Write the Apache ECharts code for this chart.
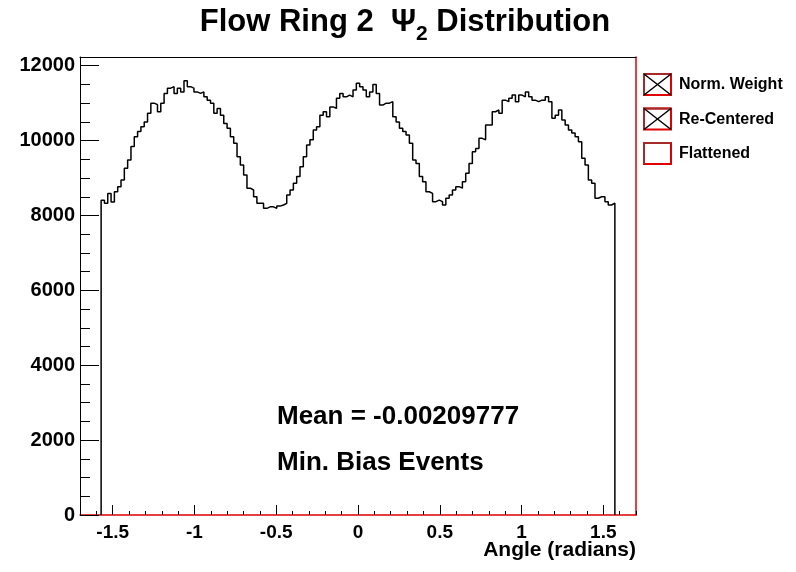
<!DOCTYPE html>
<html><head><meta charset="utf-8">
<script src="https://cdn.jsdelivr.net/npm/echarts@6/dist/echarts.min.js"></script>
<style>html,body{margin:0;padding:0;background:#fff}#c{width:796px;height:572px}</style>
</head><body><div id="c"></div>
<script>
// Histogram bin contents (bins span -pi/2 .. pi/2)
const binValues = [
 8410, 8325, 8590, 8360, 8635, 8770, 8950, 9260, 9480, 9840,
 10100, 10240, 10370, 10500, 10730, 11000, 10960, 10770, 11000, 11260,
 11400, 11440, 11260, 11400, 11300, 11600, 11440, 11400, 11300, 11260,
 11300, 11170, 11080, 11000, 10730, 10860, 10680, 10460, 10330, 10100,
 9930, 9570, 9350, 9080, 8730, 8680, 8500, 8325, 8325, 8190,
 8230, 8230, 8190, 8250, 8280, 8325, 8550, 8680, 8860, 9040,
 9300, 9570, 9880, 10020, 10280, 10370, 10680, 10770, 10640, 10900,
 10860, 11130, 11260, 11170, 11215, 11170, 11350, 11530,
 11440, 11350, 11170, 11300, 11500, 11260, 10950, 11000, 11000, 11040,
 10640, 10500, 10330, 10240, 10150, 9930, 9480, 9390, 9040, 8900,
 8635, 8590, 8370, 8410, 8370, 8280, 8460, 8550, 8680, 8770,
 8730, 8900, 9130, 9390, 9700, 9790, 10060, 10020, 10420, 10420,
 10770, 10820, 10730, 11080, 11040, 11130, 11215, 11040, 11215, 11170,
 11300, 11170, 11080, 11040, 11080, 11080, 11170, 11040, 10600, 10680,
 10820, 10550, 10420, 10280, 10200, 10100, 9970, 9530, 9350, 8950,
 8860, 8460, 8500, 8500, 8370, 8280, 8330
];
const histMin = -Math.PI / 2;
const histMax = Math.PI / 2;
const xMajorTicks = [-1.5, -1, -0.5, 0, 0.5, 1, 1.5];
const xMinorTicks = [-1.7,-1.6,-1.4,-1.3,-1.2,-1.1,-0.9,-0.8,-0.7,-0.6,-0.4,-0.3,-0.2,-0.1,0.1,0.2,0.3,0.4,0.6,0.7,0.8,0.9,1.1,1.2,1.3,1.4,1.6,1.7];
const legendNames = ['Norm. Weight', 'Re-Centered', 'Flattened'];
const legendCross = [true, true, false];
const titleMain = 'Flow Ring 2  Ψ';
const titleSub = '2';
const titleTail = ' Distribution';
const meanText = 'Mean = -0.00209777';
const eventsText = 'Min. Bias Events';
const xTitle = 'Angle (radians)';

const N = binValues.length;
const w = (histMax - histMin) / N;
const stepData = [[histMin, 0]];
binValues.forEach((v, i) => stepData.push([histMin + i * w, v]));
stepData.push([histMax, binValues[N - 1]]);
stepData.push([histMax, 0]);

const FONT = 'Liberation Sans, Arial, sans-serif';
const chart = echarts.init(document.getElementById('c'), null, {renderer: 'canvas'});

const G = {left: 80, right: 636, top: 57, bottom: 515};
const graphics = [];
graphics.push({
  type: 'text', x: 405, y: 38,
  style: {
    text: '{a|' + titleMain + '}{s|' + titleSub + '}{a|' + titleTail + '}',
    align: 'center', verticalAlign: 'bottom',
    rich: {
      a: {font: 'bold 31px ' + FONT, fill: '#000', verticalAlign: 'bottom'},
      s: {font: 'bold 21px ' + FONT, fill: '#000', padding: [0,0,-7,0], verticalAlign: 'bottom'}
    }
  }
});
legendNames.forEach((name, i) => {
  const y0 = 74 + i * 34.5;
  const ch = [];
  ch.push({type: 'rect', shape: {x: 644, y: y0, width: 27, height: 21}, style: {fill: 'none', stroke: '#e00000', lineWidth: 2}});
  ch.push({type: 'polyline', shape: {points: [[644, y0 + 21], [644, y0], [671, y0]]}, style: {fill: 'none', stroke: '#a52a2a', lineWidth: 2}});
  if (legendCross[i]) {
    ch.push({type: 'line', shape: {x1: 644, y1: y0, x2: 671, y2: y0 + 21}, style: {stroke: '#000', lineWidth: 1.5}});
    ch.push({type: 'line', shape: {x1: 671, y1: y0, x2: 644, y2: y0 + 21}, style: {stroke: '#000', lineWidth: 1.5}});
  }
  ch.push({type: 'text', x: 679, y: y0 + 11, style: {text: name, font: 'bold 16px ' + FONT, fill: '#000', verticalAlign: 'middle'}});
  graphics.push({type: 'group', children: ch});
});
graphics.push({type: 'text', x: 277, y: 417, style: {text: meanText, font: 'bold 26px ' + FONT, fill: '#000', verticalAlign: 'middle'}});
graphics.push({type: 'text', x: 277, y: 463, style: {text: eventsText, font: 'bold 26px ' + FONT, fill: '#000', verticalAlign: 'middle'}});
graphics.push({type: 'text', x: 636, y: 550, style: {text: xTitle, font: 'bold 21px ' + FONT, fill: '#000', align: 'right', verticalAlign: 'middle'}});

const labelStyle = {fontFamily: FONT, fontWeight: 'bold', fontSize: 19, color: '#000'};

chart.setOption({
  animation: false,
  backgroundColor: '#fff',
  grid: {left: G.left, right: 796 - G.right, top: G.top, bottom: 572 - G.bottom, containLabel: false},
  xAxis: [
    {type: 'value', min: -1.7, max: 1.7, position: 'bottom',
     axisLine: {show: true, onZero: false, lineStyle: {color: '#e00000', width: 1.5}},
     axisTick: {show: true, inside: true, length: 10, customValues: xMajorTicks, lineStyle: {color: '#000'}},
     axisLabel: {show: true, customValues: xMajorTicks, margin: 8, formatter: v => String(v), ...labelStyle},
     splitLine: {show: false}},
    {type: 'value', min: -1.7, max: 1.7, position: 'bottom',
     axisLine: {show: false, onZero: false},
     axisTick: {show: true, inside: true, length: 4, customValues: xMinorTicks, lineStyle: {color: '#000'}},
     axisLabel: {show: false}, splitLine: {show: false}},
    {type: 'value', min: -1.7, max: 1.7, position: 'top',
     axisLine: {show: true, onZero: false, lineStyle: {color: '#000', width: 1}},
     axisTick: {show: false}, axisLabel: {show: false}, splitLine: {show: false}}
  ],
  yAxis: [
    {type: 'value', min: 0, max: 12233, interval: 2000, position: 'left',
     axisLine: {show: true, onZero: false, lineStyle: {color: '#000', width: 1}},
     axisTick: {show: true, inside: true, length: 19, lineStyle: {color: '#000'}},
     minorTick: {show: true, splitNumber: 4, length: 10, lineStyle: {color: '#000'}},
     axisLabel: {show: true, margin: 5, showMaxLabel: false, formatter: v => String(v), ...labelStyle, fontSize: 20},
     splitLine: {show: false}},
    {type: 'value', min: 0, max: 12233, position: 'right',
     axisLine: {show: true, onZero: false, lineStyle: {color: '#e00000', width: 1.5}},
     axisTick: {show: false}, axisLabel: {show: false}, splitLine: {show: false}}
  ],
  series: [{
    type: 'line', name: 'Norm. Weight', xAxisIndex: 0, yAxisIndex: 0,
    data: stepData, step: 'end', showSymbol: false, symbol: 'none',
    lineStyle: {color: '#000', width: 1.5}, silent: true
  }],
  graphic: graphics
});
</script></body></html>
